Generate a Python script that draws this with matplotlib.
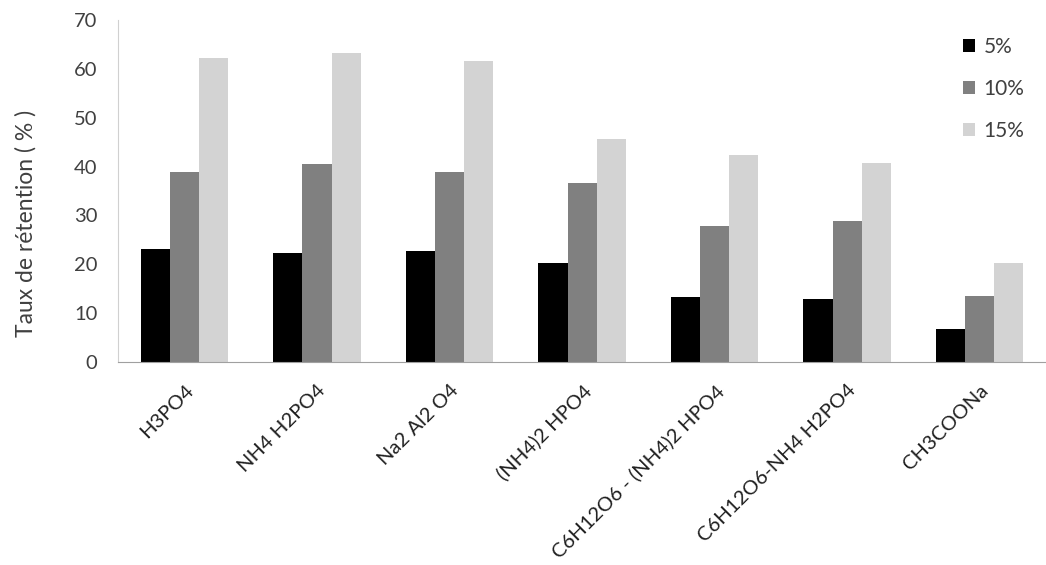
import numpy as np
import matplotlib
matplotlib.use("Agg")
import matplotlib.pyplot as plt

categories = ["H3PO4", "NH4 H2PO4", "Na2 Al2 O4", "(NH4)2 HPO4",
              "C6H12O6 - (NH4)2 HPO4", "C6H12O6-NH4 H2PO4", "CH3COONa"]
v5 = [23.2, 22.4, 22.7, 20.3, 13.3, 13.0, 6.7]
v10 = [38.9, 40.6, 38.9, 36.6, 27.8, 28.9, 13.5]
v15 = [62.1, 63.3, 61.6, 45.7, 42.3, 40.8, 20.3]
series_names = ["5%", "10%", "15%"]

plt.rcParams['font.family'] = ['Lato', 'DejaVu Sans']

fig = plt.figure(figsize=(10.46, 5.65), dpi=100)
ax = fig.add_axes([0.113, 0.359, 0.887, 0.606])

x = np.arange(len(categories))
w = 0.22
colors = ["#000000", "#808080", "#d3d3d3"]
for i, (vals, name) in enumerate(zip([v5, v10, v15], series_names)):
    ax.bar(x + (i - 1) * w, vals, w, color=colors[i], label=name)

ax.set_xlim(-0.5, len(categories) - 0.5)
ax.set_ylim(0, 70)
ax.set_yticks(range(0, 71, 10))
ax.tick_params(axis='y', length=0, labelsize=14.5, labelcolor="#404040", pad=15)
ax.tick_params(axis='x', length=0, labelsize=14.5, labelcolor="#202020", pad=14)
ax.set_xticks(x)
ax.set_xticklabels(categories, rotation=45, ha='right', rotation_mode='anchor')

for s in ["top", "right"]:
    ax.spines[s].set_visible(False)
ax.spines["left"].set_color("#d0d0d0")
ax.spines["bottom"].set_color("#a0a0a0")

ax.set_ylabel("Taux de rétention ( % )", fontsize=16.5, color="#404040")
ax.yaxis.set_label_coords(-0.088, 0.404)

ax.legend(loc="upper right", bbox_to_anchor=(0.997, 1.005), frameon=False, fontsize=15,
          handlelength=0.6, handleheight=0.6, handletextpad=0.4, labelspacing=1.05,
          labelcolor="#404040")

fig.savefig("out.png", dpi=100)
